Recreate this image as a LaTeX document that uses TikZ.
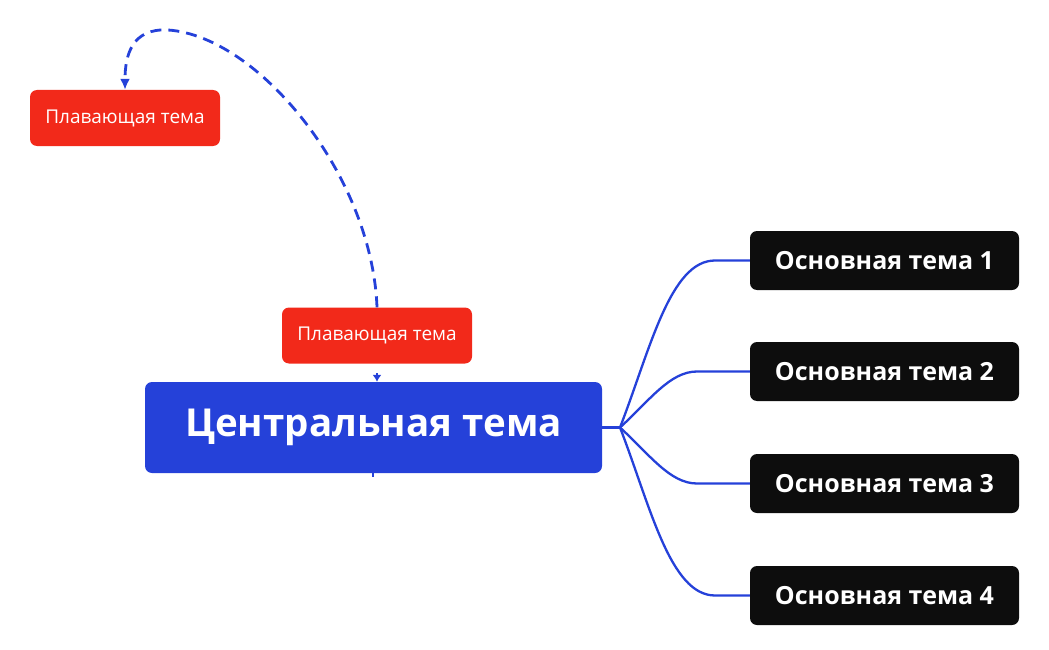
\documentclass[tikz,border=0pt]{standalone}
\usepackage{fontspec}
\setmainfont{Open Sans}
\usetikzlibrary{arrows.meta}
\definecolor{cblue}{HTML}{2541D9}
\definecolor{cred}{HTML}{F2291A}
\definecolor{cblack}{HTML}{0D0D0D}
\begin{document}
\begin{tikzpicture}[x=1pt,y=-1pt,
  central/.style={fill=cblue,rounded corners=7pt,text=white,font=\fontsize{38.5}{44}\selectfont\bfseries,minimum width=457pt,minimum height=91pt,inner sep=0pt},
  floattopic/.style={fill=cred,rounded corners=7pt,text=white,font=\fontsize{19}{22}\selectfont,minimum width=190pt,minimum height=56pt,inner sep=0pt},
  maintopic/.style={fill=cblack,rounded corners=7pt,text=white,font=\fontsize{25}{30}\selectfont\bfseries,minimum width=269pt,minimum height=59pt,inner sep=0pt},
  branch/.style={draw=cblue,line width=2.3pt},
  relation/.style={draw=cblue,line width=2.8pt,dash pattern=on 11pt off 7pt,-{Latex[length=11pt,width=10pt]}}
]
\useasboundingbox (0,0) rectangle (1049,650);
\node[central] (c) at (373.5,427.5) {Центральная тема};
\node[floattopic] (f1) at (125,118) {Плавающая тема};
\node[floattopic] (f2) at (377,335.5) {Плавающая тема};
\node[maintopic] (m1) at (884.5,260.5) {Основная тема 1};
\node[maintopic] (m2) at (884.5,371.5) {Основная тема 2};
\node[maintopic] (m3) at (884.5,483.5) {Основная тема 3};
\node[maintopic] (m4) at (884.5,595.5) {Основная тема 4};
\coordinate (j) at (620,427.5);
\draw[branch] (c.east) -- (j);
\draw[branch] (j) .. controls (650,350) and (670,260.5) .. (715,260.5) -- (m1.west);
\draw[branch] (j) .. controls (650,400) and (670,371.5) .. (697,371.5) -- (m2.west);
\draw[branch] (j) .. controls (650,455) and (670,483.5) .. (697,483.5) -- (m3.west);
\draw[branch] (j) .. controls (650,505) and (670,595.5) .. (715,595.5) -- (m4.west);
\draw[relation] (f2.north) .. controls (372,175) and (258,36) .. (168,30) .. controls (132,28) and (125,55) .. (f1.north);
\coordinate (a) at (377,373);
\draw[cblue,line width=1.2pt,-{Latex[length=7pt,width=9pt]}] (a) -- (c.north -| a);
\coordinate (b) at (373,477);
\draw[cblue,line width=1.5pt] (c.south -| b) -- (b);
\end{tikzpicture}
\end{document}
